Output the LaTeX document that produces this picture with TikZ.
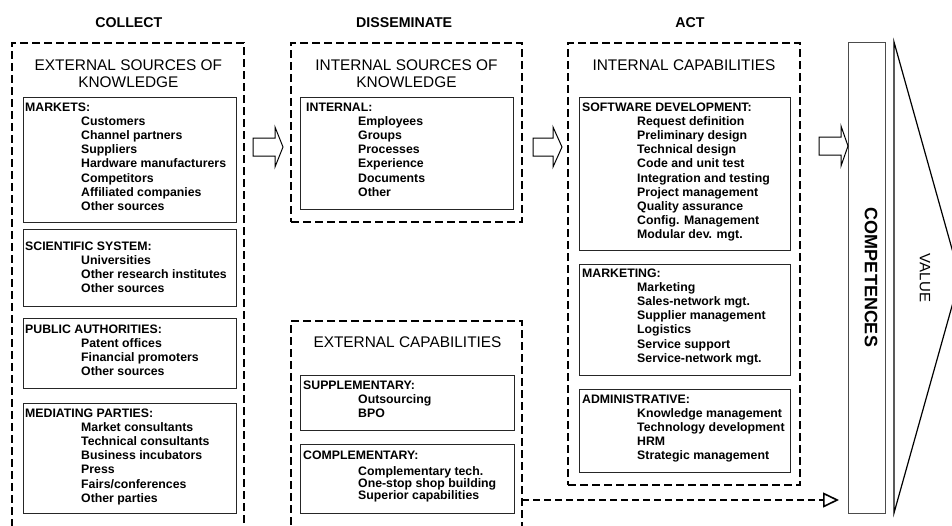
\documentclass[tikz,border=0pt]{standalone}
\usepackage{fontspec}
\setmainfont{Liberation Sans}
\usetikzlibrary{arrows.meta}

% one line per item: name prefix, x, baseline of the label line, items
\newcommand\entrylist[4]{%
  \foreach \t [count=\i] in {#4}
    \node[itemtxt] (#1-\i) at (#2, {#3+14.2*\i}) {\t};}

% hollow block arrow: shaft start, head base, tip, centre line
\newcommand\blockarr[5]{%
  \draw[blockarrow] (#2,#5-9) -- (#3,#5-9) -- (#3,#5-20) -- (#4,#5)
    -- (#3,#5+20) -- (#3,#5+9) -- (#2,#5+9) -- cycle;
  \coordinate (#1) at (#4,#5);}

\begin{document}
\begin{tikzpicture}[x=1pt,y=-1pt,
  outerbox/.style={draw=black, line width=2.5pt, dash pattern=on 8pt off 4pt,
    inner sep=0pt, outer sep=0pt, anchor=north west},
  panel/.style={draw=black!85, line width=1pt, inner sep=0pt, outer sep=0pt,
    anchor=north west},
  titletxt/.style={font=\fontsize{14.2}{16}\selectfont\bfseries, anchor=base,
    inner sep=0pt},
  headtxt/.style={font=\fontsize{15.4}{17}\selectfont, anchor=base, inner sep=0pt},
  labtxt/.style={font=\fontsize{12.3}{14}\selectfont\bfseries, anchor=base west,
    inner sep=0pt},
  itemtxt/.style={labtxt},
  blockarrow/.style={draw=black, line width=1pt, line join=miter},
  flow/.style={draw=black, line width=2.2pt, dash pattern=on 7pt off 4pt,
    -{Triangle[open, length=16pt, width=15pt, line width=1.6pt]}},
]
\useasboundingbox (0,0) rectangle (952,525);
\clip (0,0) rectangle (952,525);

% ---------------- column titles ----------------
\node[titletxt] (tcollect) at (128.8,27.3) {COLLECT};
\node[titletxt] (tdiss) at (404.2,27.3) {DISSEMINATE};
\node[titletxt] (tact) at (690,27.3) {ACT};

% ---------------- COLLECT ----------------
\node[outerbox, minimum width=232pt, minimum height=500pt] (collectbox) at (12,43) {};
\node[headtxt] (ext1) at (128.4,70.7) {EXTERNAL SOURCES OF};
\node[headtxt] (ext2) at (128.4,87.3) {KNOWLEDGE};

\node[panel, minimum width=213pt, minimum height=125pt] (markets) at (23,97) {};
\node[labtxt] (markets-h) at (25,111) {MARKETS:};
\entrylist{markets}{81}{111}{Customers,Channel partners,Suppliers,Hardware manufacturers,Competitors,Affiliated companies,Other sources}

\node[panel, minimum width=213pt, minimum height=77pt] (scientific) at (23,229) {};
\node[labtxt] (scientific-h) at (25,250) {SCIENTIFIC SYSTEM:};
\entrylist{scientific}{81}{250}{Universities,Other research institutes,Other sources}

\node[panel, minimum width=213pt, minimum height=70pt] (public) at (23,318) {};
\node[labtxt] (public-h) at (25,333) {PUBLIC AUTHORITIES:};
\entrylist{public}{81}{333}{Patent offices,Financial promoters,Other sources}

\node[panel, minimum width=213pt, minimum height=110pt] (mediating) at (23,403) {};
\node[labtxt] (mediating-h) at (25,417) {MEDIATING PARTIES:};
\entrylist{mediating}{81}{417}{Market consultants,Technical consultants,Business incubators,Press,Fairs/conferences,Other parties}

% ---------------- DISSEMINATE ----------------
\node[outerbox, minimum width=231pt, minimum height=179pt] (dissbox) at (291,43) {};
\node[headtxt] (int1) at (406.5,70.7) {INTERNAL SOURCES OF};
\node[headtxt] (int2) at (406.5,87.3) {KNOWLEDGE};

\node[panel, minimum width=213pt, minimum height=112pt] (internal) at (300,97) {};
\node[labtxt] (internal-h) at (306,111) {INTERNAL:};
\entrylist{internal}{358}{111}{Employees,Groups,Processes,Experience,Documents,Other}

% external capabilities
\node[outerbox, minimum width=231pt, minimum height=230pt] (extcapbox) at (291,321) {};
\node[headtxt] (extcap) at (407.5,347.7) {EXTERNAL CAPABILITIES};

\node[panel, minimum width=214pt, minimum height=55pt] (supplementary) at (300,375) {};
\node[labtxt] (supplementary-h) at (303,389) {SUPPLEMENTARY:};
\entrylist{supplementary}{358}{389}{Outsourcing,BPO}

\node[panel, minimum width=214pt, minimum height=69pt] (complementary) at (300,444) {};
\node[labtxt] (complementary-h) at (303,459) {COMPLEMENTARY:};
\node[itemtxt] (complementary-1) at (358,475.5) {Complementary tech.};
\node[itemtxt] (complementary-2) at (358,487.5) {One-stop shop building};
\node[itemtxt] (complementary-3) at (358,499.5) {Superior capabilities};

% ---------------- ACT ----------------
\node[outerbox, minimum width=232pt, minimum height=442pt] (actbox) at (568,43) {};
\node[headtxt] (intcap) at (684,70.7) {INTERNAL CAPABILITIES};

\node[panel, minimum width=211pt, minimum height=153pt] (software) at (579,97) {};
\node[labtxt] (software-h) at (582,111) {SOFTWARE DEVELOPMENT:};
\entrylist{software}{637}{111}{Request definition,Preliminary design,Technical design,Code and unit test,Integration and testing,Project management,Quality assurance,Config. Management,Modular dev. mgt.}

\node[panel, minimum width=211pt, minimum height=111pt] (marketing) at (579,264) {};
\node[labtxt] (marketing-h) at (582,277) {MARKETING:};
\entrylist{marketing}{637}{277}{Marketing,Sales-network mgt.,Supplier management,Logistics,Service support,Service-network mgt.}

\node[panel, minimum width=211pt, minimum height=83pt] (administrative) at (579,389) {};
\node[labtxt] (administrative-h) at (582,403) {ADMINISTRATIVE:};
\entrylist{administrative}{637}{403}{Knowledge management,Technology development,HRM,Strategic management}

% ---------------- competences and value ----------------
\node[draw=black!70, line width=1.2pt, inner sep=0pt, anchor=north west,
  minimum width=37pt, minimum height=471pt] (competences) at (848,42) {};
\node[font=\fontsize{18}{20}\selectfont\bfseries, rotate=-90, inner sep=0pt]
  (comptxt) at (871,277.5) {COMPETENCES};

\draw[line width=1.2pt, line join=miter] (894,42) coordinate (vtop)
  -- (960,277.5) coordinate (vapex) -- (894,513) coordinate (vbot) -- cycle;
\node[font=\fontsize{15}{17}\selectfont, rotate=-90, inner sep=0pt]
  (valtxt) at (925,278) {VALUE};

% ---------------- flow arrows ----------------
\blockarr{arr1}{253}{275}{283}{147}
\blockarr{arr2}{533}{553}{562}{147}
\blockarr{arr3}{819}{841}{848}{146}

\coordinate (flowend) at (839,500);
\draw[flow] (flowend -| extcapbox.east) -- (flowend);

\end{tikzpicture}
\end{document}
